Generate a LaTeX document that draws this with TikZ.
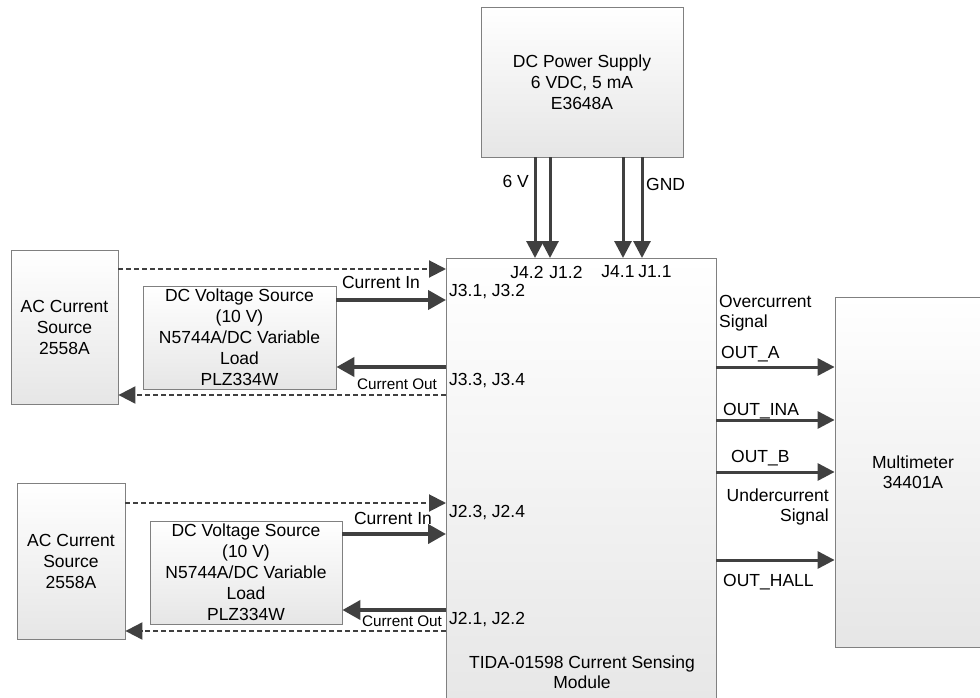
\documentclass[tikz,border=0pt]{standalone}
\usepackage{fontspec}
\setmainfont{Liberation Sans}
\usetikzlibrary{arrows.meta,positioning,calc}
\definecolor{wiregray}{RGB}{64,64,64}
\definecolor{edgegray}{RGB}{128,128,128}
\definecolor{shadegray}{RGB}{230,230,230}
\tikzset{
  >={Triangle[length=17pt,width=17pt]},
  box/.style={draw=edgegray, line width=0.8pt, top color=white, bottom color=shadegray,
    align=center, inner sep=0pt, font=\fontsize{17.5}{21}\selectfont},
  lbl/.style={inner sep=0pt, font=\fontsize{17.5}{20}\selectfont},
  small/.style={inner sep=0pt, font=\fontsize{15.3}{18}\selectfont},
  wire/.style={draw=wiregray, line width=3pt, ->},
  heavy/.style={draw=wiregray, line width=4pt, -{Triangle[length=18pt,width=19pt]}},
  dashwire/.style={draw=wiregray, line width=2pt, dash pattern=on 5pt off 3pt, ->},
}

\begin{document}
\begin{tikzpicture}[x=1pt,y=-1pt]
\useasboundingbox (0,0) rectangle (980,698);

% boxes
\node[box, minimum width=202pt, minimum height=150pt] (psu) at (582,82)
  {DC Power Supply\\6 VDC, 5 mA\\E3648A};
\node[box, minimum width=270pt, minimum height=460pt] (main) at (581,488) {};
\node[lbl, align=center] (mainname) at (582,672) {TIDA-01598 Current Sensing\\Module};
\node[box, minimum width=107pt, minimum height=154pt] (ac1) at (64.5,327)
  {AC Current\\Source\\2558A};
\node[box, minimum width=193pt, minimum height=103pt] (dcv1) at (239.5,337.5)
  {DC Voltage Source\\(10 V)\\N5744A/DC Variable\\Load\\PLZ334W};
\node[box, minimum width=108pt, minimum height=156pt] (ac2) at (71,561)
  {AC Current\\Source\\2558A};
\node[box, minimum width=192pt, minimum height=103pt] (dcv2) at (246,572.5)
  {DC Voltage Source\\(10 V)\\N5744A/DC Variable\\Load\\PLZ334W};
\node[box, minimum width=160pt, minimum height=350pt] (meter) at (915,472) {};
\node[lbl, align=center] (metername) at (913,472) {Multimeter\\34401A};

% ports on the module
\coordinate (j42) at (535,258);
\coordinate (j12) at (550,258);
\coordinate (j41) at (623,258);
\coordinate (j11) at (642,258);
\coordinate (ac1in) at (446,269);
\coordinate (j31) at (446,300);
\coordinate (j33) at (446,367);
\coordinate (ac1out) at (446,395);
\coordinate (ac2in) at (446,503);
\coordinate (j23) at (446,534);
\coordinate (j21) at (446,610);
\coordinate (ac2out) at (446,631);
\coordinate (outa) at (716,367);
\coordinate (outina) at (716,420);
\coordinate (outb) at (716,472);
\coordinate (outhall) at (716,560);

% supply
\draw[wire] (psu.south -| j42) -- (j42);
\draw[wire] (psu.south -| j12) -- (j12);
\draw[wire] (psu.south -| j41) -- (j41);
\draw[wire] (psu.south -| j11) -- (j11);
\node[lbl, anchor=east] (sixv) at (529,181) {6 V};
\node[lbl, anchor=west] (gnd) at (646,184) {GND};
\node[lbl] (n42) at (527,272) {J4.2};
\node[lbl] (n12) at (566,272) {J1.2};
\node[lbl] (n41) at (618,272) {J4.1};
\node[lbl] (n11) at (655,272) {J1.1};

% upper channel
\draw[dashwire] (ac1.east |- ac1in) -- (ac1in);
\draw[heavy] (dcv1.east |- j31) -- (j31);
\draw[heavy] (j33) -- (dcv1.east |- j33);
\draw[dashwire] (ac1out) -- (ac1.east |- ac1out);
\node[lbl] (cin1) at (381,282) {Current In};
\node[small] (cout1) at (397,384) {Current Out};
\node[lbl, anchor=west] (n31) at (449,292) {J3.1, J3.2};
\node[lbl, anchor=west] (n33) at (449,381) {J3.3, J3.4};

% lower channel
\draw[dashwire] (ac2.east |- ac2in) -- (ac2in);
\draw[heavy] (dcv2.east |- j23) -- (j23);
\draw[heavy] (j21) -- (dcv2.east |- j21);
\draw[dashwire] (ac2out) -- (ac2.east |- ac2out);
\node[lbl] (cin2) at (393,518) {Current In};
\node[small] (cout2) at (402,621) {Current Out};
\node[lbl, anchor=west] (n23) at (449,513) {J2.3, J2.4};
\node[lbl, anchor=west] (n21) at (449,620) {J2.1, J2.2};

% outputs
\draw[wire] (outa) -- (meter.west |- outa);
\draw[wire] (outina) -- (meter.west |- outina);
\draw[wire] (outb) -- (meter.west |- outb);
\draw[wire] (outhall) -- (meter.west |- outhall);
\node[lbl, anchor=west, align=left] (over) at (719,313) {Overcurrent\\Signal};
\node[lbl, anchor=west] (na) at (721,354) {OUT\_A};
\node[lbl, anchor=west] (nina) at (723,411) {OUT\_INA};
\node[lbl, anchor=west] (nb) at (731,458) {OUT\_B};
\node[lbl, anchor=east, align=right] (under) at (829,507) {Undercurrent\\Signal};
\node[lbl, anchor=west] (nhall) at (723,582) {OUT\_HALL};
\end{tikzpicture}
\end{document}
